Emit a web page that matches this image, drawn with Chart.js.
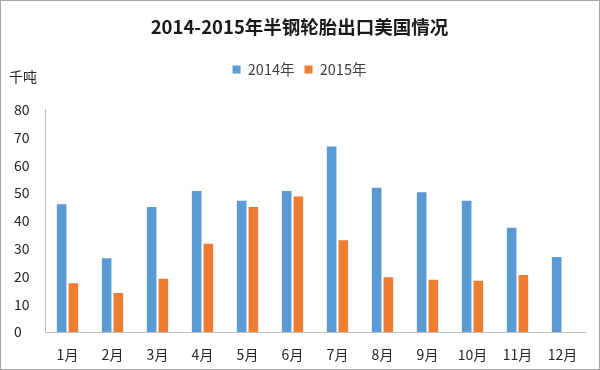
<!DOCTYPE html>
<html>
<head>
<meta charset="utf-8">
<script src="https://cdn.jsdelivr.net/npm/chart.js@4"></script>
<style>
  body { margin: 0; background: #fff; }
  #box { position: relative; width: 600px; height: 370px; box-sizing: border-box; border: 1px solid #a6a6a6; }
</style>
</head>
<body>
<div id="box"><canvas id="tyres"></canvas></div>
<script>
const months = ['1月','2月','3月','4月','5月','6月','7月','8月','9月','10月','11月','12月']
const exports2014 = [46, 26.5, 45, 50.7, 47.2, 50.7, 66.8, 51.9, 50.3, 47.2, 37.5, 27]
const exports2015 = [17.5, 14, 19.2, 31.8, 45, 48.8, 33, 19.7, 18.8, 18.4, 20.5, null]
const yTicks = [0, 10, 20, 30, 40, 50, 60, 70, 80]

const fontCN = "'Noto Sans CJK SC', 'Noto Sans', sans-serif"

// unit label "千吨" sitting above the y axis
const unitLabel = {
  id: 'unitLabel',
  afterDraw(chart) {
    const c = chart.ctx
    const y = chart.scales.y
    c.save()
    c.font = '14px ' + fontCN
    c.fillStyle = '#262626'
    c.textAlign = 'left'
    c.textBaseline = 'middle'
    c.fillText('千吨', 8, y.top - 33)
    c.restore()
  }
}

// extra room under the legend
const legendGap = {
  id: 'legendGap',
  beforeInit(chart) {
    const fit = chart.legend.fit
    chart.legend.fit = function () {
      fit.bind(chart.legend)()
      this.height += 23
    }
  }
}

const ctx = document.getElementById('tyres').getContext('2d')
new Chart(ctx, {
  type: 'bar',
  data: {
    labels: months,
    datasets: [{
      label: '2014年',
      data: exports2014,
      backgroundColor: '#5B9BD5',
      categoryPercentage: 0.52,
      barPercentage: 0.82
    }, {
      label: '2015年',
      data: exports2015,
      backgroundColor: '#ED7D31',
      categoryPercentage: 0.52,
      barPercentage: 0.82
    }]
  },
  options: {
    responsive: true,
    maintainAspectRatio: false,
    animation: false,
    layout: { padding: { left: 13, right: 14, top: 0, bottom: 0 } },
    plugins: {
      title: {
        display: true,
        text: '2014-2015年半钢轮胎出口美国情况',
        color: '#1a1a1a',
        font: { size: 18.5, weight: 'bold', family: fontCN },
        padding: { top: 15, bottom: 14 }
      },
      legend: {
        labels: {
          boxWidth: 8,
          boxHeight: 8,
          color: '#404040',
          font: { size: 14.5, family: fontCN },
          padding: 10
        }
      },
      tooltip: { enabled: false }
    },
    scales: {
      x: {
        afterFit(s) { s.height = 37 },
        grid: { display: false, drawTicks: false },
        border: { display: true, color: '#bfbfbf', width: 1 },
        ticks: { color: '#262626', font: { size: 14, family: fontCN }, padding: 14 }
      },
      y: {
        min: 0,
        max: 80,
        afterBuildTicks(s) { s.ticks = yTicks.map(v => ({ value: v })) },
        afterFit(s) { s.width = 31 },
        grid: { display: false, drawTicks: false },
        border: { display: true, color: '#bfbfbf', width: 1 },
        ticks: { color: '#262626', font: { size: 14, family: fontCN }, crossAlign: 'far', padding: 10 }
      }
    }
  },
  plugins: [unitLabel, legendGap]
})
</script>
</body>
</html>
